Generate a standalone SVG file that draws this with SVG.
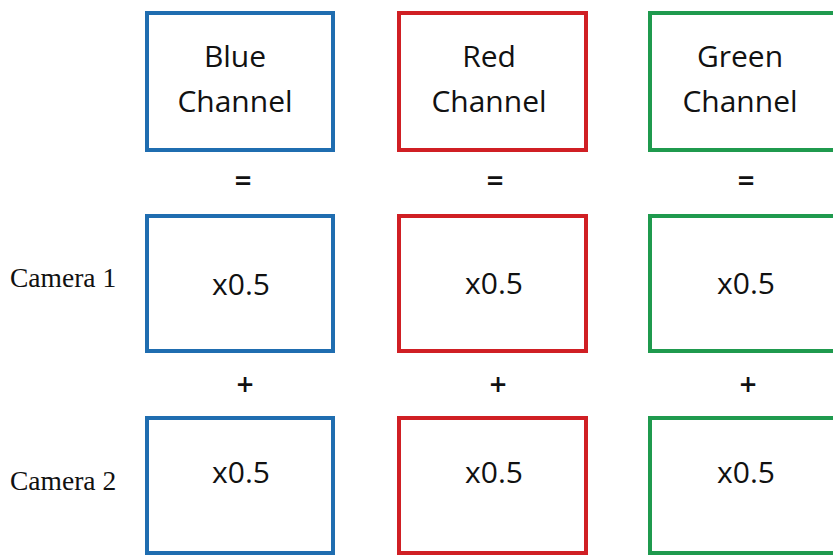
<svg xmlns="http://www.w3.org/2000/svg" width="833" height="556" viewBox="0 0 833 556">
<style>
.box{fill:none;stroke-width:4}
.b{stroke:#1F6DB0}
.r{stroke:#D01F24}
.g{stroke:#1F9A4E}
.t{font-family:"Open Sans","Liberation Sans",sans-serif;font-size:30px;fill:#111;text-anchor:middle}
.op{font-family:"Open Sans","Liberation Sans",sans-serif;font-size:30px;font-weight:600;fill:#111;text-anchor:middle}
.cam{font-family:"Liberation Serif",serif;font-size:27.5px;fill:#111}
</style>
<rect width="833" height="556" fill="#fff"/>
<g id="blue-channel"><rect class="box b" x="147" y="13" width="186" height="137"/><text class="t" x="235" y="67">Blue</text><text class="t" x="235" y="112">Channel</text></g>
<g id="red-channel"><rect class="box r" x="399" y="13" width="187" height="137"/><text class="t" x="489" y="67">Red</text><text class="t" x="489" y="112">Channel</text></g>
<g id="green-channel"><rect class="box g" x="650" y="13" width="187" height="137"/><text class="t" x="740" y="67">Green</text><text class="t" x="740" y="112">Channel</text></g>
<g id="blue-cam1"><rect class="box b" x="147" y="216" width="186" height="135"/><text class="t" x="241" y="295">x0.5</text></g>
<g id="red-cam1"><rect class="box r" x="399" y="216" width="187" height="135"/><text class="t" x="494" y="294">x0.5</text></g>
<g id="green-cam1"><rect class="box g" x="650" y="216" width="187" height="135"/><text class="t" x="746" y="294">x0.5</text></g>
<g id="blue-cam2"><rect class="box b" x="147" y="418" width="186" height="135"/><text class="t" x="241" y="483">x0.5</text></g>
<g id="red-cam2"><rect class="box r" x="399" y="418" width="187" height="135"/><text class="t" x="494" y="483">x0.5</text></g>
<g id="green-cam2"><rect class="box g" x="650" y="418" width="187" height="135"/><text class="t" x="746" y="483">x0.5</text></g>
<g id="operators">
<text class="op" x="243" y="192">=</text><text class="op" x="495" y="192">=</text><text class="op" x="746" y="192">=</text>
<text class="op" x="245" y="395">+</text><text class="op" x="498" y="395">+</text><text class="op" x="748" y="395">+</text>
</g>
<g id="labels">
<text class="cam" x="10" y="287">Camera 1</text>
<text class="cam" x="10" y="490">Camera 2</text>
</g>
</svg>
